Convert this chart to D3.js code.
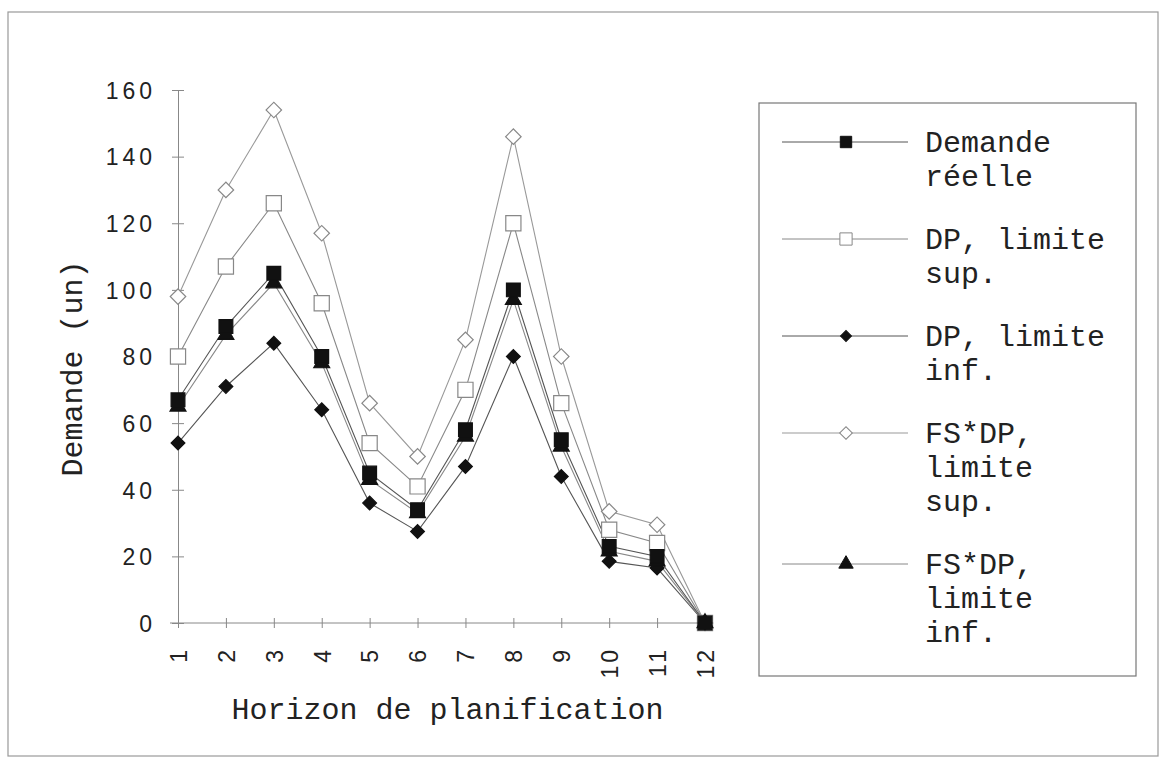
<!DOCTYPE html>
<html>
<head>
<meta charset="utf-8">
<script src="https://cdn.jsdelivr.net/npm/d3@7"></script>
<style>
  body { margin: 0; background: #fff; }
  svg { display: block; }
</style>
</head>
<body>
<div id="chart"></div>
<script>
// data
const periods = [1, 2, 3, 4, 5, 6, 7, 8, 9, 10, 11, 12];
const demandeReelle = [67, 89, 105, 80, 45, 34, 58, 100, 55, 23, 20, 0];
const dpSup = [80, 107, 126, 96, 54, 41, 70, 120, 66, 28, 24, 0];
const dpInf = [54, 71, 84, 64, 36, 27.5, 47, 80, 44, 18.5, 16.5, 0];
const fsdpSup = [98, 130, 154, 117, 66, 50, 85, 146, 80, 33.5, 29.5, 0];
const fsdpInf = [65, 86.5, 102, 78, 43, 33, 56, 97, 53, 21.5, 18.5, 0];
const yTicks = [0, 20, 40, 60, 80, 100, 120, 140, 160];

const seriesNames = [
    ["Demande", "réelle"],
    ["DP, limite", "sup."],
    ["DP, limite", "inf."],
    ["FS*DP,", "limite", "sup."],
    ["FS*DP,", "limite", "inf."]
];

const width = 1162;
const height = 763;
const marginLeft = 178;
const marginTop = 90;
const plotRight = 705;
const plotBottom = 623;

const svg = d3.select("#chart")
    .append("svg")
    .attr("width", width)
    .attr("height", height)
    .attr("viewBox", [0, 0, width, height]);

// outer frame
svg.append("rect")
    .attr("x", 8).attr("y", 12)
    .attr("width", 1150).attr("height", 744)
    .attr("fill", "none")
    .attr("stroke", "#999")
    .attr("stroke-width", 1.2);

const x = d3.scaleLinear([1, 12], [marginLeft, plotRight]);
const y = d3.scaleLinear([0, 160], [plotBottom, marginTop]);

// y axis
svg.append("g")
    .attr("transform", `translate(${marginLeft},0)`)
    .call(d3.axisLeft(y).tickValues(yTicks).tickSize(0).tickPadding(0).tickFormat(d3.format("d")))
    .call(g => g.select(".domain").attr("stroke", "#888"))
    .call(g => g.selectAll(".tick line").attr("x1", -6).attr("x2", 6).attr("stroke", "#888"))
    .call(g => g.selectAll(".tick text")
        .attr("x", -22)
        .attr("dy", "0.36em")
        .attr("fill", "#222")
        .style("font-family", "'Liberation Sans', Arial, sans-serif")
        .style("font-size", "23px")
        .style("letter-spacing", "4px"));

// x axis
svg.append("g")
    .attr("transform", `translate(0,${plotBottom})`)
    .call(d3.axisBottom(x).tickValues(periods).tickSize(0).tickFormat(d3.format("d")))
    .call(g => g.select(".domain").attr("d", `M${marginLeft - 8},0H${plotRight + 8}`).attr("stroke", "#888"))
    .call(g => g.selectAll(".tick line").attr("y1", -5).attr("y2", 5).attr("stroke", "#888"))
    .call(g => g.selectAll(".tick text")
        .attr("transform", "rotate(-90)")
        .attr("x", -24)
        .attr("y", 0)
        .attr("dy", "0.36em")
        .attr("text-anchor", "end")
        .attr("fill", "#222")
        .style("font-family", "'Liberation Sans', Arial, sans-serif")
        .style("font-size", "23px")
        .style("letter-spacing", "3px"));

const monoFont = "'Liberation Mono', 'Courier New', monospace";

svg.append("text")
    .attr("x", (marginLeft + plotRight) / 2 + 6)
    .attr("y", 719)
    .attr("text-anchor", "middle")
    .attr("fill", "#222")
    .style("font-family", monoFont)
    .style("font-size", "30px")
    .text("Horizon de planification");

svg.append("text")
    .attr("transform", `translate(82,${(marginTop + plotBottom) / 2 + 12}) rotate(-90)`)
    .attr("text-anchor", "middle")
    .attr("fill", "#222")
    .style("font-family", monoFont)
    .style("font-size", "30px")
    .text("Demande (un)");

// marker styles per series
const markers = [
    { sym: d3.symbolSquare, size: 190, rot: 0, fill: "#111", stroke: "#111", lsize: 130 },
    { sym: d3.symbolSquare, size: 230, rot: 0, fill: "#fff", stroke: "#888", lsize: 150 },
    { sym: d3.symbolSquare, size: 95, rot: 45, fill: "#111", stroke: "#111", lsize: 60 },
    { sym: d3.symbolSquare, size: 120, rot: 45, fill: "#fff", stroke: "#888", lsize: 80 },
    { sym: d3.symbolTriangle, size: 110, rot: 0, fill: "#111", stroke: "#111", lsize: 90 }
];
const lineColors = ["#555", "#888", "#555", "#999", "#888"];
const allSeries = [demandeReelle, dpSup, dpInf, fsdpSup, fsdpInf];

const line = d3.line()
    .x((d, i) => x(periods[i]))
    .y(d => y(d));

// draw back to front: lighter series first, filled ones on top
const drawOrder = [3, 1, 2, 4, 0];
drawOrder.forEach(k => {
    svg.append("path")
        .attr("d", line(allSeries[k]))
        .attr("fill", "none")
        .attr("stroke", lineColors[k])
        .attr("stroke-width", 1.1);
});
drawOrder.forEach(k => {
    const m = markers[k];
    svg.append("g")
        .selectAll("path")
        .data(allSeries[k])
        .join("path")
        .attr("transform", (d, i) => `translate(${x(periods[i])},${y(d)}) rotate(${m.rot})`)
        .attr("d", d3.symbol(m.sym, m.size))
        .attr("fill", m.fill)
        .attr("stroke", m.stroke)
        .attr("stroke-width", 1.2);
});

// legend
const legend = svg.append("g");
legend.append("rect")
    .attr("x", 759).attr("y", 103)
    .attr("width", 377).attr("height", 573)
    .attr("fill", "none")
    .attr("stroke", "#777")
    .attr("stroke-width", 1.2);

const lineHeight = 34;
const entryGap = 29;
let ly = 142;
seriesNames.forEach((lines, k) => {
    const m = markers[k];
    legend.append("line")
        .attr("x1", 782).attr("x2", 908)
        .attr("y1", ly).attr("y2", ly)
        .attr("stroke", lineColors[k]);
    legend.append("path")
        .attr("transform", `translate(846,${ly}) rotate(${m.rot})`)
        .attr("d", d3.symbol(m.sym, m.lsize))
        .attr("fill", m.fill)
        .attr("stroke", m.stroke);
    const t = legend.append("text")
        .attr("fill", "#222")
        .style("font-family", monoFont)
        .style("font-size", "30px");
    lines.forEach((s, j) => {
        t.append("tspan")
            .attr("x", 925)
            .attr("y", ly + 10 + j * lineHeight)
            .text(s);
    });
    ly += lines.length * lineHeight + entryGap;
});
</script>
</body>
</html>
